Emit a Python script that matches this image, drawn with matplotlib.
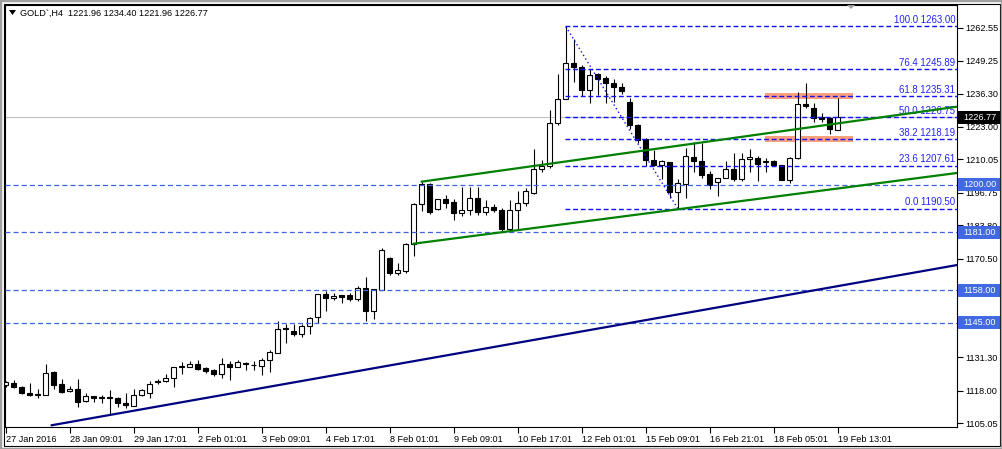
import matplotlib
matplotlib.use('Agg')
import matplotlib.pyplot as plt
from matplotlib.patches import Rectangle, Polygon

plt.rcParams['font.family'] = ['Liberation Sans', 'DejaVu Sans']

# H4 candles, GOLD, 27 Jan - 19 Feb 2016
opens = [1120.3, 1120.9, 1119.6, 1117.2, 1116.4, 1116.4, 1125.4, 1120.5, 1117.8, 1118.8,
         1113.8, 1115.9, 1115.0, 1115.0, 1115.1, 1112.9, 1112.0, 1116.3, 1117.2, 1121.8,
         1122.0, 1123.1, 1127.4, 1127.4, 1128.4, 1126.8, 1126.1, 1124.7, 1128.4, 1127.4,
         1128.9, 1128.1, 1127.8, 1130.0, 1133.1, 1142.7, 1141.6, 1140.5, 1143.9, 1147.3,
         1156.3, 1155.0, 1156.0, 1155.9, 1154.4, 1159.0, 1149.7, 1158.2, 1170.9, 1164.8,
         1165.6, 1176.5, 1192.4, 1200.4, 1190.4, 1194.1, 1193.1, 1188.8, 1190.1, 1194.8,
         1189.2, 1191.2, 1190.1, 1182.2, 1189.9, 1192.8, 1196.8, 1206.3, 1207.4, 1224.4,
         1234.2, 1248.5, 1246.9, 1237.6, 1243.9, 1242.3, 1240.5, 1238.9, 1233.0, 1223.9,
         1218.0, 1210.0, 1208.0, 1209.1, 1197.0, 1200.4, 1211.1, 1209.6, 1204.1, 1201.2,
         1202.8, 1206.3, 1202.4, 1210.3, 1210.7, 1209.2, 1209.6, 1207.8, 1201.8, 1210.7,
         1232.3, 1230.6, 1227.0, 1226.4, 1221.96]
highs = [1122.0, 1122.1, 1119.9, 1120.9, 1118.5, 1128.5, 1125.8, 1122.5, 1119.9, 1122.5,
         1117.2, 1116.0, 1116.2, 1118.3, 1115.6, 1117.0, 1118.8, 1118.8, 1121.9, 1122.5,
         1124.5, 1127.2, 1129.4, 1129.8, 1130.2, 1127.2, 1126.5, 1131.1, 1129.8, 1130.1,
         1129.2, 1129.8, 1131.1, 1134.2, 1145.7, 1144.4, 1144.4, 1144.4, 1147.5, 1156.5,
         1157.7, 1157.0, 1156.1, 1157.0, 1159.7, 1163.2, 1158.3, 1174.9, 1171.3, 1168.7,
         1176.9, 1192.8, 1201.2, 1200.8, 1194.4, 1195.7, 1194.4, 1199.0, 1199.2, 1199.0,
         1193.7, 1192.5, 1190.8, 1193.7, 1197.4, 1198.8, 1214.3, 1210.0, 1229.9, 1243.9,
         1263.0, 1258.0, 1247.8, 1246.1, 1244.5, 1243.2, 1241.9, 1240.3, 1234.6, 1224.3,
         1218.5, 1214.0, 1210.0, 1209.1, 1202.1, 1214.7, 1216.9, 1216.7, 1205.4, 1202.8,
         1209.4, 1212.7, 1212.7, 1214.3, 1211.4, 1210.7, 1210.0, 1207.8, 1211.1, 1236.8,
         1240.5, 1232.6, 1228.6, 1227.0, 1234.40]
lows = [1119.5, 1119.2, 1116.6, 1115.9, 1115.0, 1116.3, 1118.8, 1117.2, 1117.5, 1111.6,
        1113.5, 1113.5, 1113.2, 1108.2, 1111.6, 1110.9, 1112.0, 1115.9, 1115.1, 1120.5,
        1121.5, 1119.6, 1124.5, 1127.2, 1126.2, 1125.2, 1123.9, 1123.2, 1122.3, 1127.2,
        1126.1, 1126.1, 1124.4, 1125.6, 1133.1, 1137.1, 1139.8, 1139.5, 1140.4, 1145.1,
        1149.7, 1154.0, 1153.0, 1153.7, 1153.7, 1145.7, 1146.4, 1158.0, 1163.9, 1164.2,
        1164.7, 1171.6, 1189.5, 1188.4, 1190.1, 1190.8, 1185.9, 1187.5, 1187.8, 1187.8,
        1187.9, 1189.1, 1181.5, 1182.2, 1182.2, 1191.5, 1196.1, 1205.0, 1206.7, 1223.6,
        1234.2, 1240.8, 1235.2, 1232.6, 1235.9, 1232.6, 1232.9, 1236.3, 1222.0, 1216.7,
        1207.4, 1207.4, 1202.1, 1194.8, 1190.5, 1194.8, 1205.0, 1202.8, 1198.1, 1195.5,
        1202.8, 1201.4, 1201.4, 1205.0, 1201.4, 1205.0, 1207.4, 1201.8, 1200.8, 1210.3,
        1230.6, 1224.9, 1224.9, 1220.0, 1221.96]
closes = [1121.5, 1119.6, 1117.2, 1116.3, 1116.5, 1125.2, 1120.2, 1117.5, 1118.8, 1113.6,
          1115.9, 1115.0, 1115.1, 1115.1, 1112.9, 1112.3, 1116.3, 1118.3, 1120.8, 1121.5,
          1123.2, 1127.2, 1127.5, 1128.4, 1126.5, 1125.8, 1124.5, 1128.4, 1127.4, 1129.2,
          1128.4, 1128.2, 1130.0, 1133.5, 1142.7, 1142.9, 1140.4, 1143.7, 1147.1, 1156.3,
          1155.0, 1155.7, 1155.4, 1154.4, 1159.0, 1149.7, 1158.3, 1173.8, 1164.7, 1165.9,
          1176.5, 1192.4, 1200.4, 1189.1, 1194.1, 1192.8, 1188.8, 1190.1, 1194.8, 1189.2,
          1191.2, 1189.9, 1182.2, 1190.1, 1192.8, 1197.6, 1206.4, 1207.4, 1224.6, 1234.2,
          1248.5, 1246.8, 1237.6, 1243.6, 1241.9, 1240.3, 1238.7, 1237.4, 1223.6, 1217.7,
          1209.8, 1208.0, 1209.5, 1197.0, 1200.6, 1211.6, 1209.4, 1203.8, 1199.8, 1202.8,
          1206.3, 1202.4, 1210.3, 1211.1, 1208.3, 1209.5, 1207.7, 1201.8, 1210.7, 1232.3,
          1231.3, 1226.6, 1226.2, 1222.2, 1226.77]

time_labels = ['27 Jan 2016', '28 Jan 09:01', '29 Jan 17:01', '2 Feb 01:01', '3 Feb 09:01',
               '4 Feb 17:01', '8 Feb 01:01', '9 Feb 09:01', '10 Feb 17:01', '12 Feb 01:01',
               '15 Feb 09:01', '16 Feb 21:01', '18 Feb 05:01', '19 Feb 13:01']
price_ticks = [1262.55, 1249.25, 1236.30, 1223.00, 1210.05, 1196.75, 1183.80,
               1170.50, 1157.55, 1144.25, 1131.30, 1118.00, 1105.05]

levels = [1200.00, 1181.00, 1158.00, 1145.00]
fib_pct = [0.0, 23.6, 38.2, 50.0, 61.8, 76.4, 100.0]
fib_price = [1190.50, 1207.61, 1218.19, 1226.75, 1235.31, 1245.89, 1263.00]
fib_from, fib_to = 70, 84
zones = [1235.31, 1218.19]
chan_up_x, chan_up_y = [52, 119], [1201.2, 1231.1]
chan_lo_x, chan_lo_y = [51, 119], [1176.5, 1204.7]
trend_x, trend_y = [5.75, 118.9], [1104.2, 1168.0]
last_price = 1226.77

W, H = 1002, 449
FS = 6.6
XMAX = 118.9

fig = plt.figure(figsize=(W / 100, H / 100), dpi=100)
ax = fig.add_axes([5 / W, (H - 427) / H, 952 / W, 422 / H])
ax.set_xlim(-0.09, XMAX)
ax.set_ylim(1103.5, 1271.55)

# zones behind the candles
for z in zones:
    ax.add_patch(Rectangle((94.9, z - 1.3), 11.0, 2.6, facecolor='#fba07c',
                           edgecolor='none', zorder=1))

ax.axhline(last_price, color='#c0c0c0', lw=0.8, zorder=1.5)

# candles
idx = list(range(len(opens)))
ax.vlines(idx, lows, highs, color='black', lw=0.8, zorder=3)
bottoms = [min(o, c) for o, c in zip(opens, closes)]
heights = [max(abs(c - o), 0.25) for o, c in zip(opens, closes)]
colors = ['white' if c >= o else 'black' for o, c in zip(opens, closes)]
ax.bar(idx, heights, bottom=bottoms, width=0.6, color=colors,
       edgecolor='black', linewidth=0.8, zorder=4)

# horizontal levels
for lv in levels:
    ax.axhline(lv, color='#3a66e4', lw=0.9, ls=(0, (4, 2.5)), zorder=5)

# fibonacci
ax.hlines(fib_price, fib_from - 0.1, XMAX, color='#1010ff', lw=1.0,
          ls=(0, (3.5, 2)), zorder=5)
ax.plot([fib_from, fib_to], [fib_price[-1], fib_price[0]], color='#1010ff',
        lw=1.0, ls=(0, (1, 2)), zorder=5)
for p, v in zip(fib_pct, fib_price):
    ax.text(XMAX - 0.2, v + 0.5, f'{p:.1f} {v:.2f}', ha='right', va='bottom',
            color='#2020ff', fontsize=6.9, zorder=6)

# trend lines
ax.plot(chan_up_x, chan_up_y, color='#008000', lw=1.6, zorder=7)
ax.plot(chan_lo_x, chan_lo_y, color='#008000', lw=1.6, zorder=7)
ax.plot(trend_x, trend_y, color='#000080', lw=1.6, zorder=7)

# axes
for s in ax.spines.values():
    s.set_color('black')
    s.set_linewidth(0.8)
ax.yaxis.tick_right()
ax.set_yticks(price_ticks)
# the labels under the 1158 / 1145 boxes are fully covered on the terminal
hidden = {1157.55, 1144.25}
ax.set_yticklabels(['' if v in hidden else f'{v:.2f}' for v in price_ticks])
ax.tick_params(axis='y', direction='out', length=4, width=0.8, pad=2, labelsize=FS)
ax.set_xticks(range(0, 8 * len(time_labels), 8))
ax.set_xticklabels(time_labels, ha='left')
ax.tick_params(axis='x', direction='out', length=4, width=0.8, pad=2, labelsize=FS)

# price boxes on the right scale
box_x = 119.04
for lv in levels:
    ax.add_patch(Rectangle((box_x, lv - 2.6), 5.25, 5.2, facecolor='#4169e1',
                           edgecolor='none', clip_on=False, zorder=10))
    ax.text(box_x + 0.6, lv, f'{lv:.2f}', color='white', va='center', fontsize=FS,
            clip_on=False, zorder=11)
ax.add_patch(Rectangle((box_x, last_price - 2.6), 5.25, 5.2, facecolor='black',
                       edgecolor='none', clip_on=False, zorder=10))
ax.text(box_x + 0.6, last_price, f'{last_price:.2f}', color='white', va='center',
        fontsize=FS, clip_on=False, zorder=11)


def px(x, y):
    return (x / W, 1 - y / H)


# title
fig.add_artist(Polygon([px(9, 10), px(16, 10), px(12.5, 15)], closed=True,
                       facecolor='black', edgecolor='none'))
fig.text(*px(20, 13), "GOLD`,H4  1221.96 1234.40 1221.96 1226.77", va='center',
         fontsize=FS)
# chart shift marker
fig.add_artist(Polygon([px(847, 5), px(855, 5), px(851, 9)], closed=True,
                       facecolor='#a0a0a0', edgecolor='none'))

# window frame
fig.add_artist(Rectangle(px(4, 446), 996 / W, 442 / H, fill=False,
                         edgecolor='black', lw=0.8))
fig.add_artist(Rectangle((0, 0), 1, 1, fill=False, edgecolor='#a0a0a0', lw=2.5))

fig.savefig('out.png', dpi=100)
